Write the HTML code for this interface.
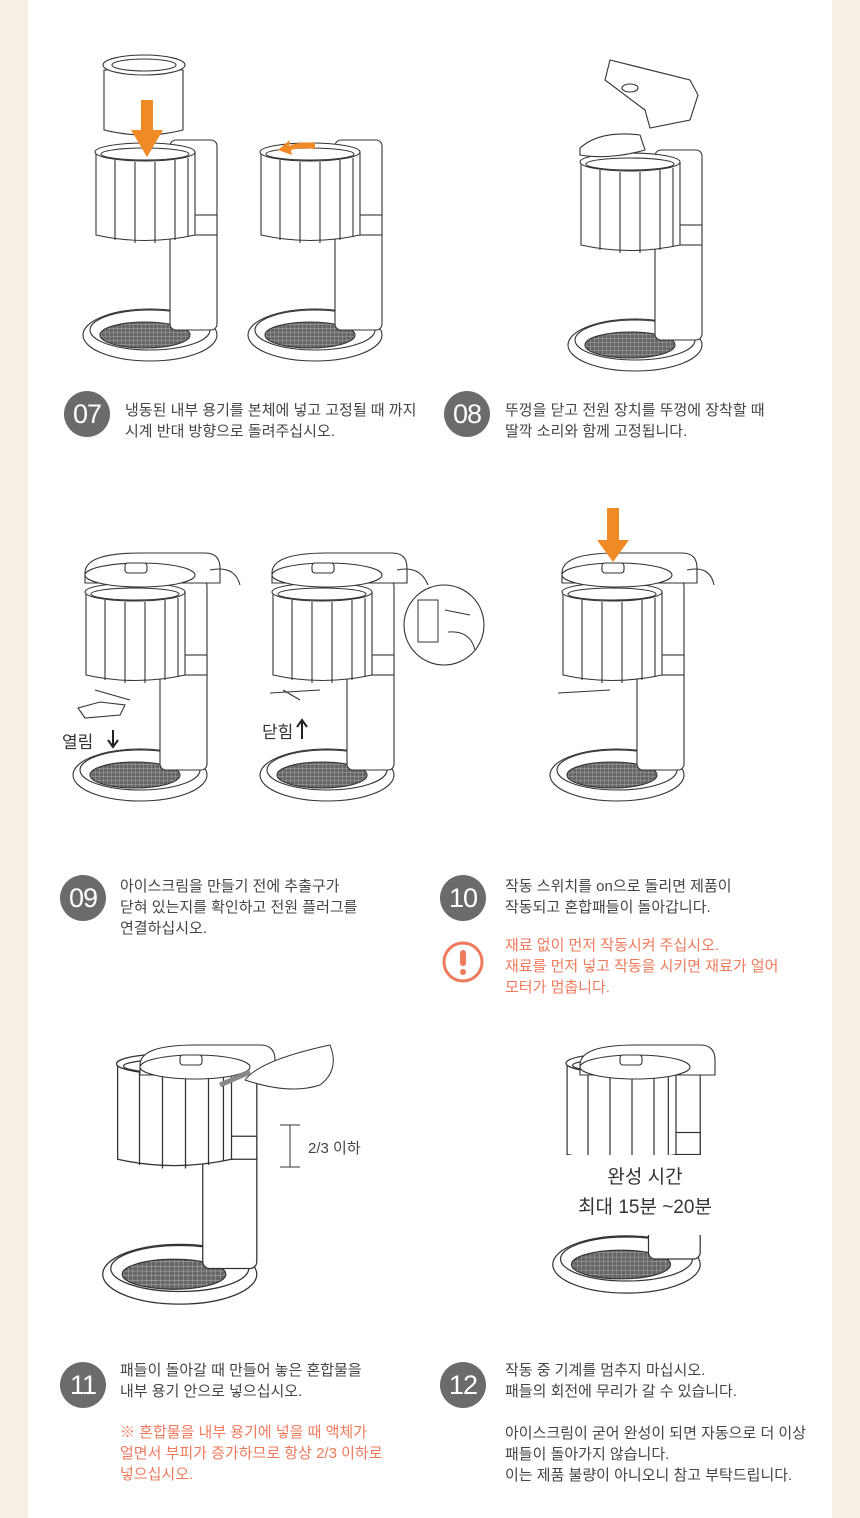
<!DOCTYPE html>
<html><head><meta charset="utf-8"><style>
body{margin:0;background:#f7efe3;}
#w{position:relative;width:860px;height:1518px;background:#f7efe3;overflow:hidden;font-family:"Liberation Sans","Noto Sans CJK KR",sans-serif;}
#in{position:absolute;left:28px;top:0;width:804px;height:1518px;background:#fff;}
.c{position:absolute;width:46px;height:46px;border-radius:50%;background:#6b6b6b;color:#fff;font-size:27px;line-height:46px;text-align:center;letter-spacing:-1px}
.t{position:absolute;font-size:15px;line-height:21px;color:#444;white-space:nowrap}
.o{color:#f07a5c}
svg{position:absolute;left:0;top:0}
</style></head><body><div id="w"><div id="in"></div>
<svg width="860" height="1518" viewBox="0 0 860 1518">
<defs>
<pattern id="g" width="4" height="4" patternUnits="userSpaceOnUse"><rect width="4" height="4" fill="#666"/><path d="M0 0H4M0 0V4" stroke="#bbb" stroke-width="0.7"/></pattern>
<g id="m" fill="#fff" stroke="#333" stroke-width="1.1">
<ellipse cx="65" cy="195" rx="67" ry="26"/>
<ellipse cx="65" cy="190" rx="60" ry="20"/>
<ellipse cx="60" cy="195" rx="45" ry="13" fill="url(#g)"/>
<rect x="85" y="0" width="47" height="190" rx="6"/>
<rect x="85" y="75" width="47" height="20"/>
<path d="M11 12 L11 95 Q60 106 110 95 L110 12 Z"/>
<ellipse cx="60" cy="12" rx="50" ry="9"/>
<ellipse cx="60" cy="14" rx="44" ry="6"/>
<path d="M30 20V100M50 22V103M70 22V103M90 20V100M103 18V97" fill="none"/>
</g>
<g id="lid" fill="#fff" stroke="#333" stroke-width="1.1">
<path d="M5 20 Q5 0 60 0 L125 0 Q140 0 140 15 L140 30 L5 30 Z"/>
<ellipse cx="60" cy="22" rx="55" ry="12"/>
<rect x="45" y="10" width="22" height="10" rx="3"/>
</g>
</defs>
<!-- step 07 -->
<g fill="#fff" stroke="#333" stroke-width="1.1">
<path d="M104 70 V130 Q145 140 183 130 V70 Z"/><ellipse cx="144" cy="65" rx="41" ry="10"/><ellipse cx="144" cy="65" rx="32" ry="6"/>
</g>
<use href="#m" x="85" y="140"/>
<use href="#m" x="250" y="140"/>
<path d="M141 100h12v30h10l-16 27-16-27h10z" fill="#f08a24"/>
<path d="M315 143 Q300 141 289 146 l1-6-12 10 14 5-1-5 Q300 147 315 149z" fill="#f08a24"/>
<!-- step 08 -->
<use href="#m" x="570" y="150"/>
<g fill="#fff" stroke="#333" stroke-width="1.1">
<path d="M580 148 Q600 130 640 135 L645 150 Q610 160 580 155Z"/>
<path d="M610 60 L690 80 L698 95 L690 120 L650 128 L645 110 L605 80 Z"/>
<ellipse cx="630" cy="88" rx="8" ry="4"/>
</g>
<!-- step 09 -->
<use href="#m" x="75" y="580"/><use href="#lid" x="80" y="553"/>
<use href="#m" x="262" y="580"/><use href="#lid" x="267" y="553"/>
<use href="#m" x="552" y="580"/><use href="#lid" x="557" y="553"/>
<g fill="none" stroke="#333" stroke-width="1.1">
<path d="M210 570 Q235 565 240 585M397 570 Q420 565 428 585M687 570 Q710 565 714 585"/>
<path d="M78 708 L100 702 L125 705 L120 715 L85 718 Z M95 690 L130 700M270 693 L320 690 M283 690 L300 700M558 693 L610 690"/>
</g>
<circle cx="444" cy="625" r="40" fill="#fff" stroke="#333" stroke-width="1.1"/>
<rect x="418" y="600" width="20" height="42" fill="#fff" stroke="#333"/>
<path d="M445 610 L470 615 M448 632 Q470 630 475 650" stroke="#333" fill="none"/>
<path d="M607 508h12v32h10l-16 22-16-22h10z" fill="#f08a24"/>
<text x="62" y="748" font-size="17" fill="#333" font-family="Liberation Sans,Noto Sans CJK KR,sans-serif">열림</text>
<path d="M113 730v15M108 740l5 7 5-7" stroke="#222" stroke-width="2" fill="none"/>
<text x="262" y="738" font-size="17" fill="#333" font-family="Liberation Sans,Noto Sans CJK KR,sans-serif">닫힘</text>
<path d="M302 722v17M297 727l5-7 5 7" stroke="#222" stroke-width="2" fill="none"/>
<!-- step 11 -->
<g transform="translate(105,1050) scale(1.15)"><use href="#m"/></g>
<use href="#lid" x="135" y="1045"/>
<path d="M245 1080 Q260 1060 330 1045 Q340 1070 320 1085 Q290 1095 245 1080Z" fill="#fff" stroke="#333"/>
<path d="M220 1085 L250 1072" stroke="#888" stroke-width="5"/>
<path d="M280 1125h20M290 1125v42M280 1167h20" stroke="#333" fill="none"/>
<text x="308" y="1153" font-size="15" fill="#444" font-family="Liberation Sans,Noto Sans CJK KR,sans-serif">2/3 이하</text>
<!-- step 12 -->
<g transform="translate(555,1050) scale(1.1)"><use href="#m"/></g>
<use href="#lid" x="575" y="1045"/>
<rect x="540" y="1155" width="180" height="80" fill="#fff"/>
<text x="645" y="1183" font-size="19" fill="#333" text-anchor="middle" font-family="Liberation Sans,Noto Sans CJK KR,sans-serif">완성 시간</text>
<text x="645" y="1213" font-size="19" fill="#333" text-anchor="middle" font-family="Liberation Sans,Noto Sans CJK KR,sans-serif">최대 15분 ~20분</text>
<circle cx="463" cy="962" r="19" fill="none" stroke="#f07a5c" stroke-width="3"/>
<rect x="460" y="950" width="6" height="16" rx="3" fill="#f07a5c"/><circle cx="463" cy="972" r="3" fill="#f07a5c"/>
</svg>
<div class="c" style="left:64px;top:391px">07</div>
<div class="t" style="left:125px;top:400px">냉동된 내부 용기를 본체에 넣고 고정될 때 까지<br>시계 반대 방향으로 돌려주십시오.</div>
<div class="c" style="left:444px;top:391px">08</div>
<div class="t" style="left:505px;top:400px">뚜껑을 닫고 전원 장치를 뚜껑에 장착할 때<br>딸깍 소리와 함께 고정됩니다.</div>
<div class="c" style="left:60px;top:875px">09</div>
<div class="t" style="left:120px;top:876px">아이스크림을 만들기 전에 추출구가<br>닫혀 있는지를 확인하고 전원 플러그를<br>연결하십시오.</div>
<div class="c" style="left:440px;top:875px">10</div>
<div class="t" style="left:505px;top:876px">작동 스위치를 on으로 돌리면 제품이<br>작동되고 혼합패들이 돌아갑니다.</div>
<div class="t o" style="left:505px;top:935px">재료 없이 먼저 작동시켜 주십시오.<br>재료를 먼저 넣고 작동을 시키면 재료가 얼어<br>모터가 멈춥니다.</div>
<div class="c" style="left:60px;top:1362px">11</div>
<div class="t" style="left:120px;top:1360px">패들이 돌아갈 때 만들어 놓은 혼합물을<br>내부 용기 안으로 넣으십시오.</div>
<div class="t o" style="left:120px;top:1422px">※ 혼합물을 내부 용기에 넣을 때 액체가<br>얼면서 부피가 증가하므로 항상 2/3 이하로<br>넣으십시오.</div>
<div class="c" style="left:440px;top:1362px">12</div>
<div class="t" style="left:505px;top:1360px">작동 중 기계를 멈추지 마십시오.<br>패들의 회전에 무리가 갈 수 있습니다.<br><br>아이스크림이 굳어 완성이 되면 자동으로 더 이상<br>패들이 돌아가지 않습니다.<br>이는 제품 불량이 아니오니 참고 부탁드립니다.</div>
</div></body></html>
